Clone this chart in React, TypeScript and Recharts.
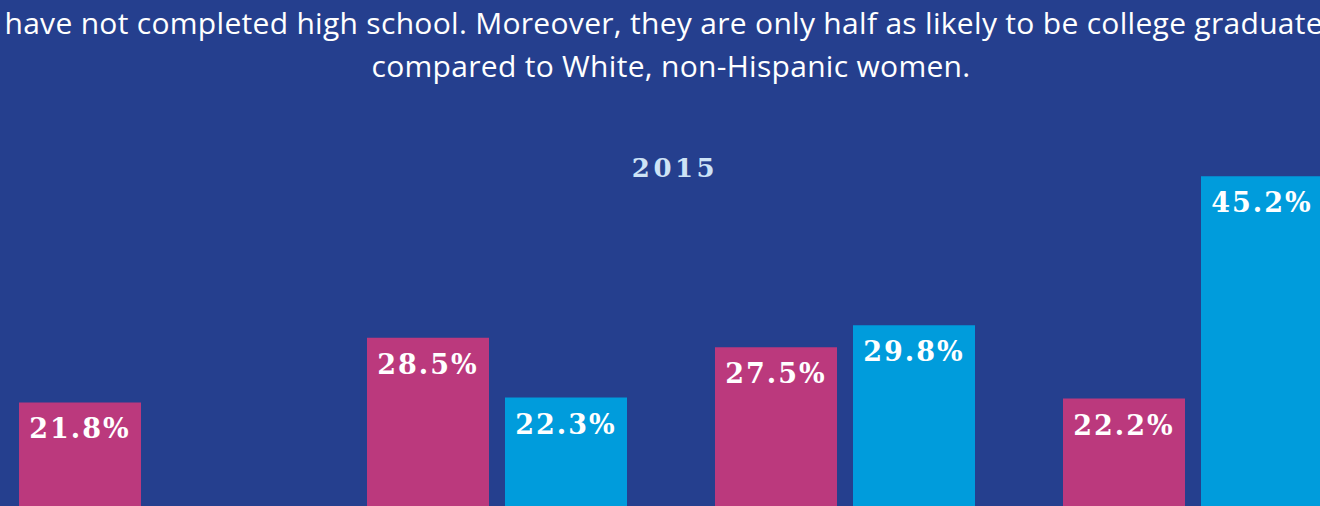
import React from 'react';
import { BarChart, Bar, XAxis, YAxis, LabelList } from 'recharts';

// education levels (axis is below the visible area)
const categories = ['Less than high school', 'High school graduate', 'Some college', 'College graduate'];
const hispanicWomen = [21.8, 28.5, 27.5, 22.2];
const whiteWomen = [2.7, 22.3, 29.8, 45.2];
const yearLabel = '2015';
const introLines = [
  'have not completed high school. Moreover, they are only half as likely to be college graduates',
  'compared to White, non-Hispanic women.',
];

const BG = '#253f8e';
const PINK = '#bb397d';
const BLUE = '#009cdc';

const chartData = categories.map((name, i) => ({
  name,
  hispanic: hispanicWomen[i],
  white: whiteWomen[i],
}));

// value label drawn just inside the top of each bar
const renderValue = (props: any) => {
  const { x, y, width, value } = props;
  if (value == null) return null;
  return (
    <text
      x={x + width / 2}
      y={y + 36}
      fill="#ffffff"
      textAnchor="middle"
      style={{ fontFamily: '"DejaVu Serif", serif', fontWeight: 700, fontSize: 27, letterSpacing: 2 }}
    >
      {`${value.toFixed(1)}%`}
    </text>
  );
};

export default function App() {
  return (
    <div
      style={{
        position: 'absolute',
        left: 0,
        top: 0,
        width: 1320,
        height: 506,
        overflow: 'hidden',
        background: BG,
      }}
    >
      {/* intro text, centred on a container a bit wider than the window */}
      <div
        style={{
          position: 'absolute',
          left: 0,
          top: 1,
          width: 1342,
          textAlign: 'center',
          color: '#ffffff',
          fontFamily: '"Open Sans", sans-serif',
          fontSize: 30,
          letterSpacing: 0.3,
          lineHeight: '43px',
          whiteSpace: 'nowrap',
        }}
      >
        {introLines.map((line) => (
          <div key={line}>{line}</div>
        ))}
      </div>

      <div
        style={{
          position: 'absolute',
          left: 0,
          top: 155,
          width: 1350,
          textAlign: 'center',
          color: '#cde3f6',
          fontFamily: '"DejaVu Serif", serif',
          fontWeight: 700,
          fontSize: 26,
          lineHeight: '26px',
          letterSpacing: 3.5,
        }}
      >
        {yearLabel}
      </div>

      <div style={{ position: 'absolute', left: -25, top: 0 }}>
        <BarChart
          width={1392}
          height={613}
          data={chartData}
          margin={{ top: 130, right: 0, bottom: 0, left: 0 }}
          barSize={122}
          barGap={16}
        >
          <XAxis dataKey="name" hide />
          <YAxis hide domain={[0, 50]} />
          <Bar dataKey="hispanic" name="Hispanic women" fill={PINK} isAnimationActive={false}>
            <LabelList dataKey="hispanic" content={renderValue} />
          </Bar>
          <Bar dataKey="white" name="White, non-Hispanic women" fill={BLUE} isAnimationActive={false}>
            <LabelList dataKey="white" content={renderValue} />
          </Bar>
        </BarChart>
      </div>
    </div>
  );
}
